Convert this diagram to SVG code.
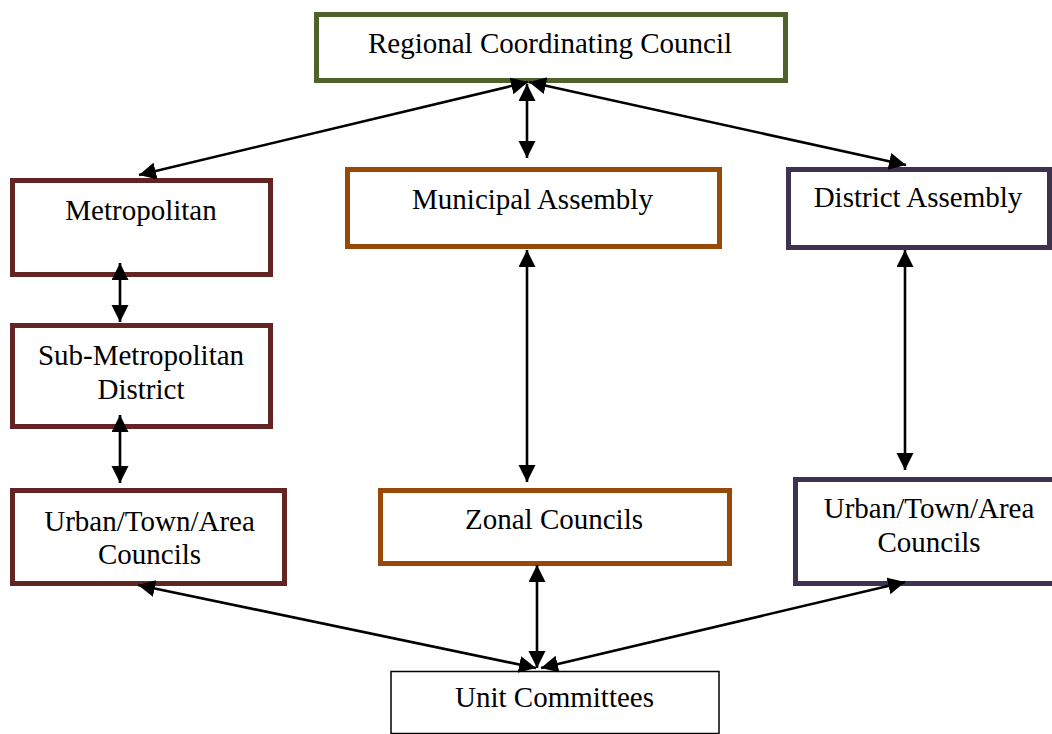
<svg xmlns="http://www.w3.org/2000/svg" width="1052" height="734" viewBox="0 0 1052 734">
  <style>
    .box { fill: #ffffff; stroke-width: 5; }
    .green { stroke: #4F6228; }
    .maroon { stroke: #632523; }
    .orange { stroke: #984807; }
    .purple { stroke: #3F3151; }
    .plain { stroke: #000000; stroke-width: 1.5; }
    .label { font-family: "Liberation Serif", "Times New Roman", serif; font-size: 29px; fill: #000000; text-anchor: middle; }
    .link { stroke: #000000; stroke-width: 2.6; fill: none; marker-start: url(#tip); marker-end: url(#tip); }
  </style>
  <defs>
    <marker id="tip" markerUnits="userSpaceOnUse" markerWidth="18" markerHeight="18" viewBox="0 0 18 18" refX="17" refY="8.5" orient="auto-start-reverse">
      <path d="M0,0 L17,8.5 L0,17 z" fill="#000000"/>
    </marker>
  </defs>
  <rect width="1052" height="734" fill="#ffffff"/>

  <g id="node-regional">
    <rect class="box green" x="316.5" y="14.5" width="469" height="66"/>
    <text class="label" x="550" y="53">Regional Coordinating Council</text>
  </g>

  <g id="node-metropolitan">
    <rect class="box maroon" x="12.5" y="180.5" width="258" height="94"/>
    <text class="label" x="141" y="220">Metropolitan</text>
  </g>

  <g id="node-sub-metropolitan">
    <rect class="box maroon" x="12.5" y="325.5" width="258" height="101"/>
    <text class="label" x="141" y="365">Sub-Metropolitan</text>
    <text class="label" x="141" y="399">District</text>
  </g>

  <g id="node-urban-left">
    <rect class="box maroon" x="12.5" y="490.5" width="272" height="93"/>
    <text class="label" x="149.5" y="531">Urban/Town/Area</text>
    <text class="label" x="149.5" y="564">Councils</text>
  </g>

  <g id="node-municipal">
    <rect class="box orange" x="347.5" y="169.5" width="372" height="77"/>
    <text class="label" x="532.5" y="209">Municipal Assembly</text>
  </g>

  <g id="node-zonal">
    <rect class="box orange" x="380.5" y="490.5" width="349" height="73"/>
    <text class="label" x="554" y="529">Zonal Councils</text>
  </g>

  <g id="node-district">
    <rect class="box purple" x="788.5" y="169.5" width="261" height="78"/>
    <text class="label" x="918" y="207">District Assembly</text>
  </g>

  <g id="node-urban-right">
    <rect class="box purple" x="795.5" y="479.5" width="270" height="104"/>
    <text class="label" x="929" y="518">Urban/Town/Area</text>
    <text class="label" x="929" y="552">Councils</text>
  </g>

  <g id="node-unit">
    <rect class="box plain" x="391" y="671.5" width="328" height="62"/>
    <text class="label" x="554.5" y="707">Unit Committees</text>
  </g>

  <g id="connectors">
    <line class="link" x1="528" y1="82" x2="139" y2="175"/>
    <line class="link" x1="527" y1="84" x2="527" y2="158"/>
    <line class="link" x1="529" y1="82" x2="906" y2="165"/>
    <line class="link" x1="120" y1="263" x2="120" y2="322"/>
    <line class="link" x1="120" y1="415" x2="120" y2="483"/>
    <line class="link" x1="527" y1="250" x2="527" y2="482"/>
    <line class="link" x1="905" y1="250" x2="905" y2="470"/>
    <line class="link" x1="537" y1="565" x2="537" y2="668"/>
    <line class="link" x1="138" y1="585" x2="536" y2="668"/>
    <line class="link" x1="905" y1="582" x2="541" y2="668"/>
  </g>
</svg>
